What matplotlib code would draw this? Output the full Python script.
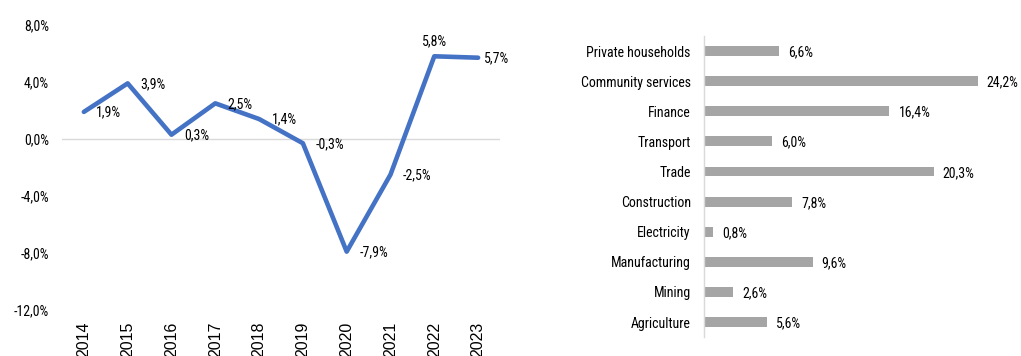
import matplotlib
matplotlib.use("Agg")
import matplotlib.pyplot as plt
from matplotlib import font_manager

# annual growth, left panel
years = ["2014", "2015", "2016", "2017", "2018", "2019", "2020", "2021", "2022", "2023"]
growth = [1.9, 3.9, 0.3, 2.5, 1.4, -0.3, -7.9, -2.5, 5.8, 5.7]
yticks = [-12, -8, -4, 0, 4, 8]

# sector shares, right panel (top to bottom)
sectors = ["Private households", "Community services", "Finance", "Transport", "Trade",
           "Construction", "Electricity", "Manufacturing", "Mining", "Agriculture"]
shares = [6.6, 24.2, 16.4, 6.0, 20.3, 7.8, 0.8, 9.6, 2.6, 5.6]

installed = {f.name for f in font_manager.fontManager.ttflist}
condensed = [n for n in ["Liberation Sans Narrow", "Roboto Condensed", "Open Sans Condensed"] if n in installed]
narrow = condensed + ["Liberation Sans", "DejaVu Sans"]
nsize = 10 if condensed else 8.8
regular = ["Liberation Sans", "DejaVu Sans"]
blue = "#4472C4"
grey = "#A5A5A5"
light = "#D9D9D9"


def pct(v):
    return f"{v:.1f}%".replace(".", ",")


fig = plt.figure(figsize=(10.21, 3.56), dpi=100)

# --- line chart ---
ax = fig.add_axes([0.0607, 0.129, 0.429, 0.801])
x = list(range(len(years)))
ax.axhline(0, color=light, lw=1, zorder=1)
ax.plot(x, growth, color=blue, lw=3.3, solid_capstyle="round", solid_joinstyle="round", zorder=3)
ax.set_xlim(-0.5, len(years) - 0.5)
ax.set_ylim(-12, 8)
ax.set_yticks(yticks)
ax.set_yticklabels([pct(v) for v in yticks], family=narrow, fontsize=nsize)
ax.set_xticks(x)
ax.set_xticklabels(years, rotation=90, family=regular, fontsize=11.5)
ax.tick_params(axis="y", length=0, pad=9.5)
ax.tick_params(axis="x", length=0, pad=8.5)
for s in ax.spines.values():
    s.set_visible(False)

for i, v in enumerate(growth):
    if years[i] == "2022":
        ax.annotate(pct(v), (i, v), xytext=(0, 6), textcoords="offset points",
                    ha="center", va="bottom", family=narrow, fontsize=nsize)
    else:
        dx = 4.5 if i == len(growth) - 1 else 9
        ax.annotate(pct(v), (i, v), xytext=(dx, -0.5), textcoords="offset points",
                    ha="left", va="center", family=narrow, fontsize=nsize)

# --- bar chart ---
bx = fig.add_axes([0.6895, 0.053, 0.288, 0.846])
pos = list(range(len(sectors)))
bx.barh(pos, shares, height=0.33, color=grey, zorder=2)
bx.set_ylim(len(sectors) - 0.5, -0.5)
bx.set_xlim(0, 26)
bx.set_yticks(pos)
bx.set_yticklabels(sectors, family=narrow, fontsize=nsize)
bx.set_xticks([])
bx.tick_params(axis="y", length=0, pad=9.5)
for name, s in bx.spines.items():
    s.set_visible(name == "left")
bx.spines["left"].set_color(light)
bx.spines["left"].set_linewidth(1)
for p, v in zip(pos, shares):
    bx.annotate(pct(v), (v, p), xytext=(6.5, -1), textcoords="offset points",
                ha="left", va="center", family=narrow, fontsize=nsize)

fig.savefig("out.png", dpi=100, facecolor="white")
